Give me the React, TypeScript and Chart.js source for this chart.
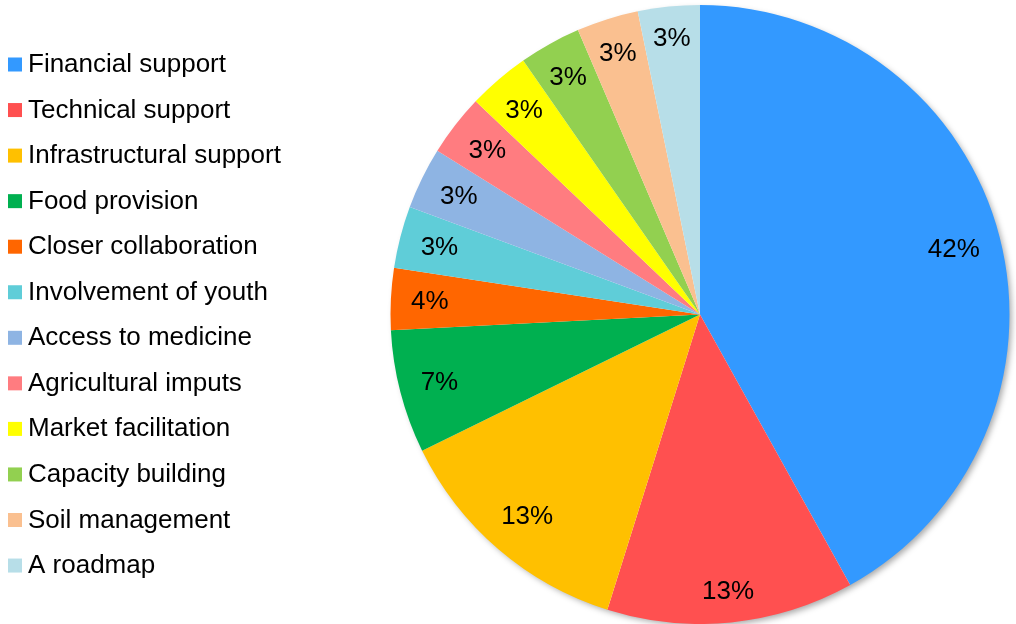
import React, { useEffect, useRef } from "react";
import { Chart, registerables } from "chart.js";

Chart.register(...registerables);

const categories = [
  "Financial support",
  "Technical support",
  "Infrastructural support",
  "Food provision",
  "Closer collaboration",
  "Involvement of youth",
  "Access to medicine",
  "Agricultural imputs",
  "Market facilitation",
  "Capacity building",
  "Soil management",
  "A roadmap",
];

// number of mentions per category
const responses = [13, 4, 4, 2, 1, 1, 1, 1, 1, 1, 1, 1];

const colors = [
  "#3399FF",
  "#FF5050",
  "#FFC000",
  "#00B050",
  "#FF6600",
  "#5FCDD8",
  "#8EB4E3",
  "#FF7C80",
  "#FFFF00",
  "#92D050",
  "#FAC090",
  "#B7DEE8",
];

const FONT = "Arial, 'Liberation Sans', sans-serif";

// Percentages rounded so they add up to 100 (largest remainder)
function roundedPercents(data: number[]): number[] {
  const total = data.reduce((a, b) => a + b, 0);
  const raw = data.map((v) => (v / total) * 100);
  const floors = raw.map((v) => Math.floor(v));
  let left = 100 - floors.reduce((a, b) => a + b, 0);
  const order = raw
    .map((v, i) => ({ i, r: v - Math.floor(v) }))
    .sort((a, b) => b.r - a.r || a.i - b.i);
  const out = floors.slice();
  for (let k = 0; k < order.length && left > 0; k++, left--) out[order[k].i] += 1;
  return out;
}

const shadowPlugin = {
  id: "pieShadow",
  beforeDatasetsDraw(chart: any) {
    const meta = chart.getDatasetMeta(0);
    const arc = meta.data[0];
    if (!arc) return;
    const { x, y, outerRadius } = arc.getProps(["x", "y", "outerRadius"], true);
    const ctx = chart.ctx;
    ctx.save();
    ctx.shadowColor = "rgba(0,0,0,0.35)";
    ctx.shadowBlur = 6;
    ctx.shadowOffsetX = 3;
    ctx.shadowOffsetY = 3;
    ctx.fillStyle = "#ffffff";
    ctx.beginPath();
    ctx.arc(x, y, outerRadius - 1, 0, Math.PI * 2);
    ctx.fill();
    ctx.restore();
  },
};

const labelPlugin = {
  id: "pctLabels",
  afterDatasetsDraw(chart: any) {
    const ctx = chart.ctx;
    const meta = chart.getDatasetMeta(0);
    const data = chart.data.datasets[0].data as number[];
    const pcts = roundedPercents(data);
    ctx.save();
    ctx.font = `26px ${FONT}`;
    ctx.fillStyle = "#000000";
    ctx.textAlign = "center";
    ctx.textBaseline = "middle";
    meta.data.forEach((arc: any, i: number) => {
      const { x, y, startAngle, endAngle, outerRadius } = arc.getProps(
        ["x", "y", "startAngle", "endAngle", "outerRadius"],
        true
      );
      const mid = (startAngle + endAngle) / 2;
      const txt = pcts[i] + "%";
      const hw = ctx.measureText(txt).width / 2;
      const hh = 10;
      const c = Math.cos(mid);
      const s = Math.sin(mid);
      const edge = outerRadius * 0.9365;
      const r = edge - (hw * Math.abs(c) + hh * Math.abs(s));
      ctx.fillText(txt, x + c * r, y + s * r + 1);
    });
    ctx.restore();
  },
};

const legendPlugin = {
  id: "sideLegend",
  afterDraw(chart: any) {
    const ctx = chart.ctx;
    const labels = chart.data.labels as string[];
    const bg = chart.data.datasets[0].backgroundColor as string[];
    const firstBase = 72;
    const step = 45.55;
    ctx.save();
    ctx.font = `26px ${FONT}`;
    ctx.textBaseline = "alphabetic";
    ctx.textAlign = "left";
    labels.forEach((lab, i) => {
      const base = firstBase + i * step;
      ctx.fillStyle = bg[i];
      ctx.fillRect(8, base - 14.5, 14, 14);
      ctx.fillStyle = "#000000";
      ctx.fillText(lab, 28, base);
    });
    ctx.restore();
  },
};

export default function App() {
  const ref = useRef<HTMLCanvasElement | null>(null);
  useEffect(() => {
    if (!ref.current) return;
    const chart = new Chart(ref.current, {
      type: "pie",
      data: {
        labels: categories,
        datasets: [
          {
            data: responses,
            backgroundColor: colors,
            borderWidth: 0,
            hoverOffset: 0,
          },
        ],
      },
      options: {
        animation: false,
        responsive: false,
        maintainAspectRatio: false,
        events: [],
        layout: { padding: { left: 390, right: 6, top: 5, bottom: -1 } },
        plugins: {
          legend: { display: false },
          tooltip: { enabled: false },
        },
      },
      plugins: [shadowPlugin, labelPlugin, legendPlugin],
    });
    return () => chart.destroy();
  }, []);
  return (
    <div style={{ position: "fixed", left: 0, top: 0, width: 1016, height: 624, background: "#fff" }}>
      <canvas ref={ref} width={1016} height={624} style={{ width: 1016, height: 624, display: "block" }} />
    </div>
  );
}
